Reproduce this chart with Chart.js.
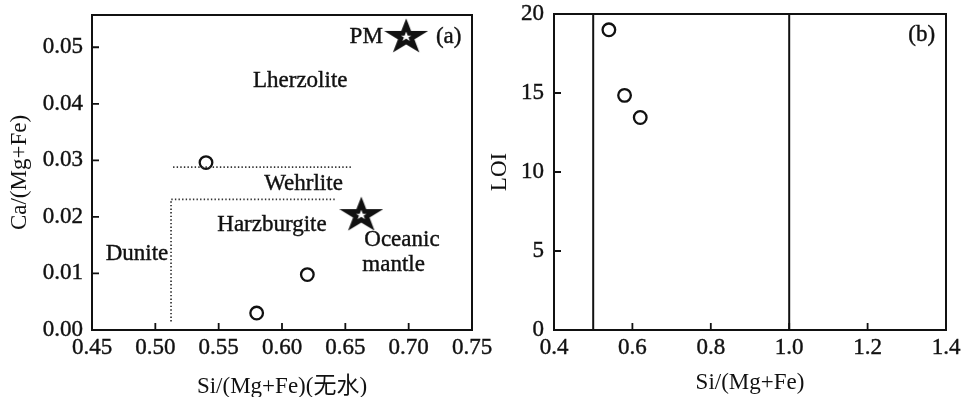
<!DOCTYPE html>
<html><head><meta charset="utf-8">
<script src="https://cdn.jsdelivr.net/npm/chart.js@4"></script>
<style>
html,body{margin:0;padding:0;background:#fff;}
#wrap{position:relative;width:962px;height:397px;background:#fff;overflow:hidden;}
#ca{position:absolute;left:0;top:0;}
#cb{position:absolute;left:480px;top:0;}
</style></head><body>
<div id="wrap"><canvas id="ca" width="500" height="397"></canvas><canvas id="cb" width="482" height="397"></canvas></div>
<script>
// ---- data ----
const sampleSi  = [0.54, 0.58, 0.62];
const sampleCa  = [0.0296, 0.0030, 0.0098];
const sampleLOI = [19.0, 14.85, 13.45];

const refNames = ['PM', 'Oceanic mantle'];
const refSi = [0.698, 0.6626];
const refCa = [0.0520, 0.0205];

// field boundaries (dotted) in panel (a)
const upperBoundSi = [0.514, 0.655];
const upperBoundCa = [0.0288, 0.0288];
const lowerBoundSi = [0.5124, 0.5124, 0.643];
const lowerBoundCa = [0.0015, 0.0231, 0.0231];

// field boundaries (solid) in panel (b)
const fieldLineSi = [0.5, 1.0];
const fieldLineLOI = [0, 20];

// tick labels
const xTicksA = [0.45, 0.50, 0.55, 0.60, 0.65, 0.70, 0.75];
const yTicksA = [0.00, 0.01, 0.02, 0.03, 0.04, 0.05];
const xTicksB = [0.4, 0.6, 0.8, 1.0, 1.2, 1.4];
const yTicksB = [0, 5, 10, 15, 20];

// text annotations (data coordinates)
const fieldNamesA = ['PM', '(a)', 'Lherzolite', 'Wehrlite', 'Harzburgite', 'Dunite', 'Oceanic', 'mantle'];
const fieldNameSiA = [0.6665, 0.7316, 0.6144, 0.617, 0.5921, 0.4855, 0.6947, 0.6881];
const fieldNameCaA = [0.0519, 0.0519, 0.0441, 0.0259, 0.0185, 0.0135, 0.0159, 0.0115];
const fieldNamesB = ['(b)'];
const fieldNameSiB = [1.338];
const fieldNameLOIB = [18.7];

// ---- styling ----
const FONT = '"Liberation Serif", "Times New Roman", "Noto Sans CJK SC", serif';
const INK = '#111';
const FS = 23;

function makeStar() {
  const c = document.createElement('canvas');
  c.width = 44; c.height = 36;
  const g = c.getContext('2d');
  const R = 12.0, r = 4.6, cx = 22, cy = 19;
  g.save();
  g.translate(cx, cy);
  g.scale(1.2, 1);
  g.beginPath();
  for (let i = 0; i < 10; i++) {
    const rad = i % 2 === 0 ? R : r;
    const a = -Math.PI / 2 + i * Math.PI / 5;
    const px = rad * Math.cos(a), py = rad * Math.sin(a);
    if (i === 0) g.moveTo(px, py); else g.lineTo(px, py);
  }
  g.closePath();
  g.restore();
  g.fillStyle = '#fff';
  g.fill();
  g.lineWidth = 4.8;
  g.lineJoin = 'miter';
  g.strokeStyle = INK;
  g.stroke();
  return c;
}
const starImg = makeStar();

function framePlugin(names, xs, ys) {
  return {
    id: 'frame',
    afterDatasetsDraw(chart) {
      const {ctx, chartArea: a, scales} = chart;
      const sx = scales.x, sy = scales.y;
      ctx.save();
      ctx.strokeStyle = INK;
      ctx.lineWidth = 2;
      ctx.strokeRect(a.left, a.top, a.right - a.left, a.bottom - a.top);
      ctx.lineWidth = 1.8;
      ctx.beginPath();
      sx.ticks.forEach(t => {
        const p = sx.getPixelForValue(t.value);
        ctx.moveTo(p, a.bottom); ctx.lineTo(p, a.bottom - 7);
      });
      sy.ticks.forEach(t => {
        const p = sy.getPixelForValue(t.value);
        ctx.moveTo(a.left, p); ctx.lineTo(a.left + 7, p);
      });
      ctx.stroke();
      ctx.fillStyle = INK;
      ctx.strokeStyle = INK;
      ctx.lineWidth = 0.4;
      ctx.font = FS + 'px ' + FONT;
      ctx.textAlign = 'center';
      ctx.textBaseline = 'middle';
      names.forEach((n, i) => {
        const px = sx.getPixelForValue(xs[i]), py = sy.getPixelForValue(ys[i]);
        ctx.fillText(n, px, py);
        ctx.strokeText(n, px, py);
      });
      ctx.restore();
    }
  };
}

function axes(xMin, xMax, yMin, yMax, xTicks, yTicks, xFmt, yFmt, xTitle, yTitle, yWidth, yPad, xTitlePadB) {
  return {
    x: {
      type: 'linear', min: xMin, max: xMax,
      grid: {display: false, drawTicks: false},
      border: {display: false},
      afterBuildTicks: s => { s.ticks = xTicks.map(v => ({value: v})); },
      afterFit: s => { s.height = 67; s.paddingLeft = 0; s.paddingRight = 0; },
      ticks: {color: INK, font: {family: FONT, size: FS}, padding: 4, maxRotation: 0, autoSkip: false,
              textStrokeColor: INK, textStrokeWidth: 0.4,
              callback: v => xFmt(v)},
      title: {display: true, text: xTitle, color: INK, font: {family: FONT, size: FS, lineHeight: 0.85},
              padding: {top: 0, bottom: xTitlePadB}}
    },
    y: {
      type: 'linear', min: yMin, max: yMax,
      grid: {display: false, drawTicks: false},
      border: {display: false},
      afterBuildTicks: s => { s.ticks = yTicks.map(v => ({value: v})); },
      afterFit: s => { s.width = yWidth; s.paddingTop = 0; s.paddingBottom = 0; },
      ticks: {color: INK, font: {family: FONT, size: FS}, padding: yPad, autoSkip: false,
              textStrokeColor: INK, textStrokeWidth: 0.4,
              callback: v => yFmt(v)},
      title: {display: true, text: yTitle, color: INK, font: {family: FONT, size: FS, lineHeight: 1},
              padding: {top: 8, bottom: 0}}
    }
  };
}

const commonOpts = {
  responsive: false, animation: false,
  plugins: {legend: {display: false}, tooltip: {enabled: false}}
};

// ---- panel (a) ----
new Chart(document.getElementById('ca'), {
  type: 'scatter',
  data: {
    datasets: [
      {data: upperBoundSi.map((v, i) => ({x: v, y: upperBoundCa[i]})), showLine: true,
       borderColor: '#333', borderWidth: 1.7, borderDash: [1.4, 2.2], pointRadius: 0},
      {data: lowerBoundSi.map((v, i) => ({x: v, y: lowerBoundCa[i]})), showLine: true,
       borderColor: '#333', borderWidth: 1.7, borderDash: [1.4, 2.2], pointRadius: 0},
      {data: sampleSi.map((v, i) => ({x: v, y: sampleCa[i]})),
       pointStyle: 'circle', pointRadius: 6.3, borderColor: INK, borderWidth: 2.3, backgroundColor: '#fff'},
      {data: refSi.map((v, i) => ({x: v, y: refCa[i]})),
       pointStyle: starImg, pointRadius: 14}
    ]
  },
  options: Object.assign({}, commonOpts, {
    layout: {padding: {left: 0, right: 28, top: 14, bottom: 0}},
    scales: axes(0.45, 0.75, 0, 0.0557, xTicksA, yTicksA,
      v => v.toFixed(2), v => v.toFixed(2),
      'Si/(Mg+Fe)(无水)', 'Ca/(Mg+Fe)', 92, 9, 0)
  }),
  plugins: [framePlugin(fieldNamesA, fieldNameSiA, fieldNameCaA)]
});

// ---- panel (b) ----
new Chart(document.getElementById('cb'), {
  type: 'scatter',
  data: {
    datasets: [
      {data: fieldLineLOI.map(v => ({x: fieldLineSi[0], y: v})), showLine: true,
       borderColor: INK, borderWidth: 2, pointRadius: 0},
      {data: fieldLineLOI.map(v => ({x: fieldLineSi[1], y: v})), showLine: true,
       borderColor: INK, borderWidth: 2, pointRadius: 0},
      {data: sampleSi.map((v, i) => ({x: v, y: sampleLOI[i]})),
       pointStyle: 'circle', pointRadius: 6.3, borderColor: INK, borderWidth: 2.3, backgroundColor: '#fff'}
    ]
  },
  options: Object.assign({}, commonOpts, {
    layout: {padding: {left: 0, right: 16, top: 14, bottom: 0}},
    scales: axes(0.4, 1.4, 0, 20, xTicksB, yTicksB,
      v => v.toFixed(1), v => String(v),
      'Si/(Mg+Fe)', 'LOI', 74, 10, 4)
  }),
  plugins: [framePlugin(fieldNamesB, fieldNameSiB, fieldNameLOIB)]
});
</script>
</body></html>
